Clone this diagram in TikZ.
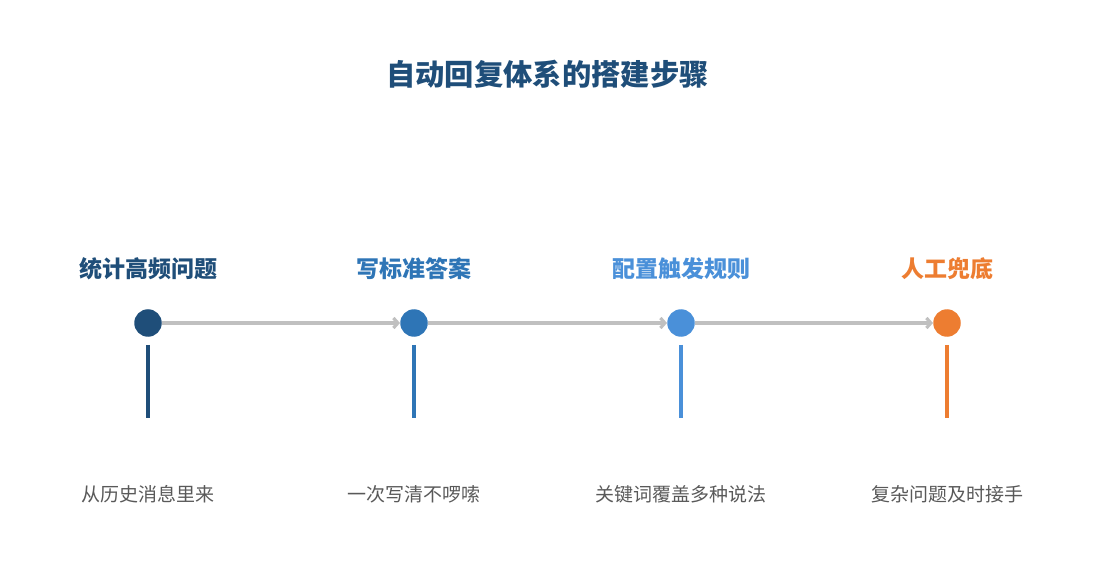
\documentclass[tikz,border=0pt]{standalone}
\usepackage{fontspec}
\setmainfont{Noto Sans CJK SC}
\usepackage{xcolor}
\usetikzlibrary{arrows.meta,calc}
\definecolor{navy}{HTML}{1F4E79}
\definecolor{midblue}{HTML}{2E75B6}
\definecolor{skyblue}{HTML}{4A90D9}
\definecolor{warmorange}{HTML}{ED7D31}
\definecolor{linkgray}{HTML}{C0C0C0}
\definecolor{notegray}{HTML}{595959}

\begin{document}
\begin{tikzpicture}[x=1pt, y=-1pt,
    dot/.style={circle, minimum size=27.5pt, inner sep=0pt},
    bar/.style={line width=3.5pt},
    head/.style={font=\fontsize{23}{28}\selectfont\bfseries},
    note/.style={font=\fontsize{19}{23}\selectfont, text=notegray},
    link/.style={-{Straight Barb[length=4.5pt, width=10pt]}, line width=3.2pt, draw=linkgray}
]
    \useasboundingbox (0, 0) rectangle (1095, 585);

    % Title
    \node[font=\fontsize{29.3}{35}\selectfont\bfseries, text=navy] (title) at (547.5, 74) {自动回复体系的搭建步骤};

    % Step 1
    \node[head, text=navy] (head1) at (148, 269) {统计高频问题};
    \node[dot, fill=navy] (dot1) at (148, 323) {};
    \draw[bar, navy] ($(dot1.south)+(0, 8)$) -- ++(0, 73);
    \node[note] (note1) at (148, 494) {从历史消息里来};

    % Step 2
    \node[head, text=midblue] (head2) at (414, 269) {写标准答案};
    \node[dot, fill=midblue] (dot2) at (414, 323) {};
    \draw[bar, midblue] ($(dot2.south)+(0, 8)$) -- ++(0, 73);
    \node[note] (note2) at (414, 494) {一次写清不啰嗦};

    % Step 3
    \node[head, text=skyblue] (head3) at (681, 269) {配置触发规则};
    \node[dot, fill=skyblue] (dot3) at (681, 323) {};
    \draw[bar, skyblue] ($(dot3.south)+(0, 8)$) -- ++(0, 73);
    \node[note] (note3) at (681, 494) {关键词覆盖多种说法};

    % Step 4
    \node[head, text=warmorange] (head4) at (947, 269) {人工兜底};
    \node[dot, fill=warmorange] (dot4) at (947, 323) {};
    \draw[bar, warmorange] ($(dot4.south)+(0, 8)$) -- ++(0, 73);
    \node[note] (note4) at (947, 494) {复杂问题及时接手};

    % Links
    \draw[link] (dot1) -- (dot2);
    \draw[link] (dot2) -- (dot3);
    \draw[link] (dot3) -- (dot4);
\end{tikzpicture}
\end{document}
